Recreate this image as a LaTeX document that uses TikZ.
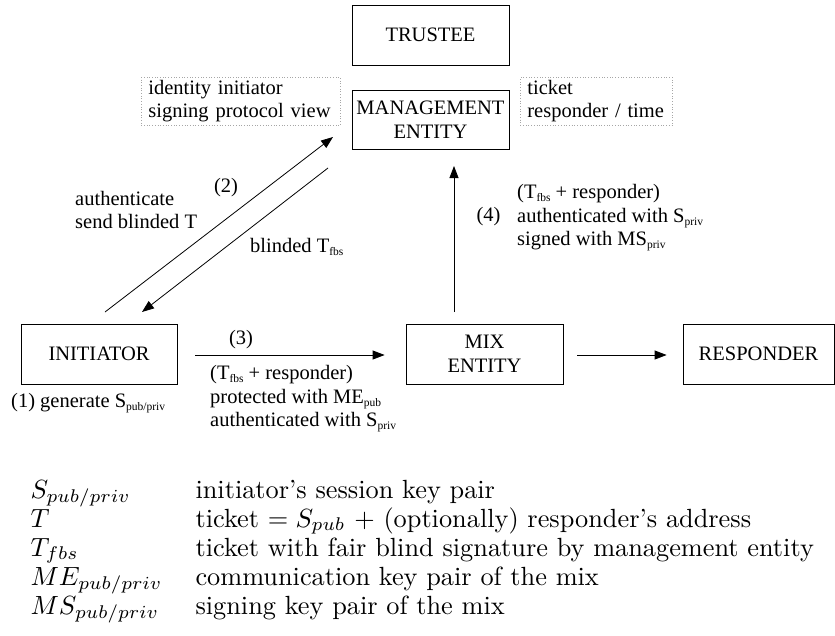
\documentclass[tikz,border=0pt]{standalone}
\usepackage{fontspec}
\newfontfamily\tnr{Liberation Serif}
\usetikzlibrary{arrows.meta}
\newcommand\sbs[1]{\raisebox{-3pt}{\fontsize{11.5}{11.5}\selectfont #1}}
\tikzset{
  ent/.style={draw, line width=0.8pt, minimum width=157pt, minimum height=60pt, inner sep=0pt, align=center,
    font=\tnr\fontsize{20.5}{23.5}\selectfont},
  note/.style={draw=gray!70, dotted, line width=0.7pt, inner xsep=7pt, inner ysep=0pt, minimum height=48pt, align=left,
    font=\tnr\fontsize{20.5}{23}\selectfont},
  lbl/.style={inner sep=0pt, align=left, font=\tnr\fontsize{20.5}{23.5}\selectfont},
  arr/.style={line width=0.8pt, -{Triangle[length=12pt,width=9pt]}},
  leg/.style={inner sep=0pt, anchor=base west, scale=2.63, transform shape, font=\fontsize{10}{12}\selectfont}
}
\begin{document}
\begin{tikzpicture}[x=1pt,y=-1pt]
\useasboundingbox (0,0) rectangle (835,635);
% entities
\node[ent] (trustee) at (430.5,35) {TRUSTEE};
\node[ent, minimum height=59pt] (me) at (430.5,119.5) {MANAGEMENT\\ENTITY};
\node[ent, minimum width=156pt] (init) at (99,354) {INITIATOR};
\node[ent] (mix) at (484.5,354) {MIX\\ENTITY};
\node[ent, minimum width=151pt] (resp) at (758.5,354) {RESPONDER};
% dotted notes
\node[note, text width=185pt, anchor=north west] (n1) at (141,77) {identity initiator\\signing protocol view};
\node[note, text width=138pt, anchor=north west] (n2) at (520,77) {ticket\\responder / time};
% connector end points
\coordinate (a1s) at (105,312);
\coordinate (a1e) at (333,137);
\coordinate (a2s) at (328,168);
\coordinate (a2e) at (142,312);
\coordinate (a4s) at (454,312);
\coordinate (a4e) at (454,166);
% arrows
\draw[arr] (a1s) -- (a1e);
\draw[arr] (a2s) -- (a2e);
\draw[arr] (a4s) -- (a4e);
\draw[arr, shorten <=18pt, shorten >=21pt] ([yshift=-1pt]init.east) -- ([yshift=-1pt]mix.west);
\draw[arr, shorten <=14pt, shorten >=16pt] ([yshift=-1pt]mix.east) -- ([yshift=-1pt]resp.west);
% labels
\node[lbl] (l2) at (226,188) {(2)};
\node[lbl, anchor=west] (l2a) at (75,210) {authenticate\\send blinded T};
\node[lbl, anchor=west] (l2b) at (250,247) {blinded T\sbs{fbs}};
\node[lbl] (l3) at (241,340) {(3)};
\node[lbl, anchor=west] (l3a) at (210,399) {(T\sbs{fbs} + responder)\\protected with ME\sbs{pub}\\authenticated with S\sbs{priv}};
\node[lbl, anchor=west] (l1) at (11,403) {(1) generate S\sbs{pub/priv}};
\node[lbl] (l4) at (488.5,217) {(4)};
\node[lbl, anchor=west] (l4a) at (517,218) {(T\sbs{fbs} + responder)\\authenticated with S\sbs{priv}\\signed with MS\sbs{priv}};
% legend
\node[leg] (s1) at (30,498) {$S_{pub/priv}$};
\node[leg] (d1) at (195,498) {initiator's session key pair};
\node[leg] (s2) at (30,527) {$T$};
\node[leg] (d2) at (195,527) {ticket $= S_{pub}$ + (optionally) responder's address};
\node[leg] (s3) at (30,556) {$T_{fbs}$};
\node[leg] (d3) at (195,556) {ticket with fair blind signature by management entity};
\node[leg] (s4) at (30,585) {$ME_{pub/priv}$};
\node[leg] (d4) at (195,585) {communication key pair of the mix};
\node[leg] (s5) at (30,614) {$MS_{pub/priv}$};
\node[leg] (d5) at (195,614) {signing key pair of the mix};
\end{tikzpicture}
\end{document}
